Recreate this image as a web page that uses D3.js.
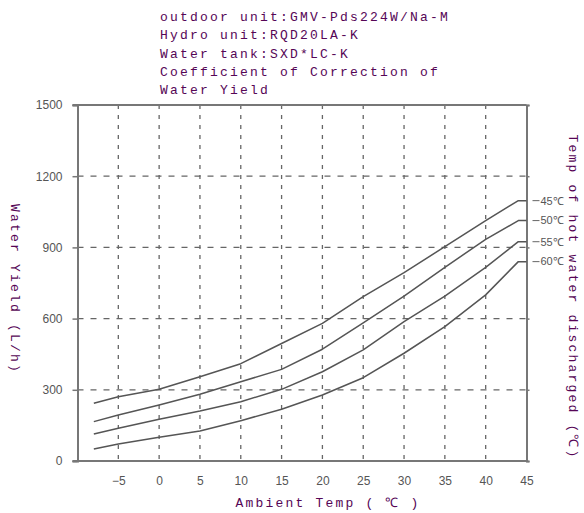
<!DOCTYPE html>
<html>
<head>
<meta charset="utf-8">
<script src="https://cdn.jsdelivr.net/npm/d3@7"></script>
<style>
  body { margin: 0; background: #fff; }
  .mono { font-family: "Liberation Mono", "DejaVu Sans Mono", monospace; font-size: 13px; fill: #560656; letter-spacing: 2.2px; }
  .tick text { font-family: "Liberation Sans Narrow", "Liberation Sans", sans-serif; font-size: 12px; fill: #555; }
</style>
</head>
<body>
<div id="chart"></div>
<script>
// ambient temperature points (x) shared by all curves
var ambientTemp = [-8, -5, 0, 5, 10, 15, 20, 25, 30, 35, 40, 44, 45];
// water yield (L/h) per hot water temperature
var yield45 = [243, 271, 302, 355, 410, 495, 580, 693, 794, 903, 1013, 1097, 1097];
var yield50 = [166, 194, 236, 281, 334, 386, 471, 582, 695, 816, 934, 1013, 1013];
var yield55 = [114, 138, 176, 211, 250, 302, 376, 468, 587, 695, 816, 924, 924];
var yield60 = [51, 72, 100, 126, 170, 218, 278, 351, 454, 566, 700, 840, 840];
var seriesNames = ["45℃", "50℃", "55℃", "60℃"];
var xTicks = [-5, 0, 5, 10, 15, 20, 25, 30, 35, 40, 45];
var yTicks = [0, 300, 600, 900, 1200, 1500];
var titleLines = ["outdoor unit:GMV-Pds224W/Na-M", "Hydro unit:RQD20LA-K", "Water tank:SXD*LC-K",
                  "Coefficient of Correction of", "Water Yield"];

var series = [yield45, yield50, yield55, yield60].map(function(vals, i) {
  return { name: seriesNames[i], values: vals.map(function(v, j) { return { x: ambientTemp[j], y: v }; }) };
});

var W = 584, H = 513;
var margin = { left: 77.5, right: 57.5, top: 105, bottom: 52 };

var xScale = d3.scaleLinear().domain([-10, 45]).range([margin.left, W - margin.right]);
var yScale = d3.scaleLinear().domain([0, 1500]).range([H - margin.bottom, margin.top]);

var svg = d3.select("#chart").append("svg").attr("width", W).attr("height", H);
svg.append("rect").attr("width", W).attr("height", H).style("fill", "#fff");

// grid lines
svg.append("g").selectAll("line").data(xTicks.filter(function(d) { return d < 45; })).enter()
  .append("line")
  .attr("x1", function(d) { return xScale(d); }).attr("x2", function(d) { return xScale(d); })
  .attr("y1", yScale(1500)).attr("y2", yScale(0))
  .style("stroke", "#666").style("stroke-width", 1.3).style("stroke-dasharray", "4,6");
svg.append("g").selectAll("line").data(yTicks.filter(function(d) { return d > 0 && d < 1500; })).enter()
  .append("line")
  .attr("x1", xScale(-10)).attr("x2", xScale(45))
  .attr("y1", function(d) { return yScale(d); }).attr("y2", function(d) { return yScale(d); })
  .style("stroke", "#666").style("stroke-width", 1.3).style("stroke-dasharray", "6,7");

// axes
var yAxisLeft = d3.axisLeft(yScale).tickValues(yTicks).tickFormat(d3.format("d")).tickSize(5).tickPadding(10);
var yAxisRight = d3.axisRight(yScale).tickValues(yTicks).tickSize(3).tickFormat("");
var xAxis = d3.axisBottom(xScale).tickValues(xTicks).tickSize(0).tickPadding(15);

var gl = svg.append("g").attr("transform", "translate(" + margin.left + ",0)").call(yAxisLeft);
var gr = svg.append("g").attr("transform", "translate(" + xScale(45) + ",0)").call(yAxisRight);
var gx = svg.append("g").attr("transform", "translate(0," + yScale(0) + ")").call(xAxis);
[gl, gr, gx].forEach(function(g) {
  g.select(".domain").style("stroke", "#777").style("stroke-width", 2);
  g.selectAll(".tick line").style("stroke", "#777").style("stroke-width", 1.5);
});
gx.select(".domain").attr("d", "M" + (margin.left - 5) + ",0H" + xScale(45));
// top border
svg.append("line").attr("x1", margin.left - 5).attr("x2", xScale(45))
  .attr("y1", yScale(1500)).attr("y2", yScale(1500))
  .style("stroke", "#777").style("stroke-width", 2);

// curves
var line = d3.line().x(function(d) { return xScale(d.x); }).y(function(d) { return yScale(d.y); });
svg.append("g").selectAll("path").data(series).enter()
  .append("path").attr("d", function(d) { return line(d.values); })
  .style("fill", "none").style("stroke", "#555").style("stroke-width", 1.5)
  .style("stroke-linejoin", "round");

// curve labels at right
var lab = svg.append("g").selectAll("g").data(series).enter().append("g")
  .attr("transform", function(d) { return "translate(" + (xScale(45) + 6) + "," + yScale(d.values[d.values.length - 1].y) + ")"; });
lab.append("line").attr("x1", 0).attr("x2", 7).style("stroke", "#666").style("stroke-width", 1);
lab.append("text").attr("x", 8).attr("dy", "0.35em").text(function(d) { return d.name; })
  .style("font-family", "'Liberation Sans Narrow', 'Liberation Sans', sans-serif")
  .style("font-size", "11px").style("fill", "#555");

// titles
svg.append("g").selectAll("text").data(titleLines).enter()
  .append("text").attr("class", "mono").attr("x", 160)
  .attr("y", function(d, i) { return 21 + i * 18.3; }).text(function(d) { return d; });
svg.append("text").attr("class", "mono").attr("text-anchor", "middle")
  .attr("x", 328).attr("y", 507).text("Ambient Temp ( ℃ )");
svg.append("text").attr("class", "mono").attr("text-anchor", "middle")
  .attr("transform", "translate(11,289) rotate(90)").text("Water Yield (L/h)");
svg.append("text").attr("class", "mono").attr("text-anchor", "middle")
  .attr("transform", "translate(569,297) rotate(90)").text("Temp of hot water discharged (℃)");
</script>
</body>
</html>
